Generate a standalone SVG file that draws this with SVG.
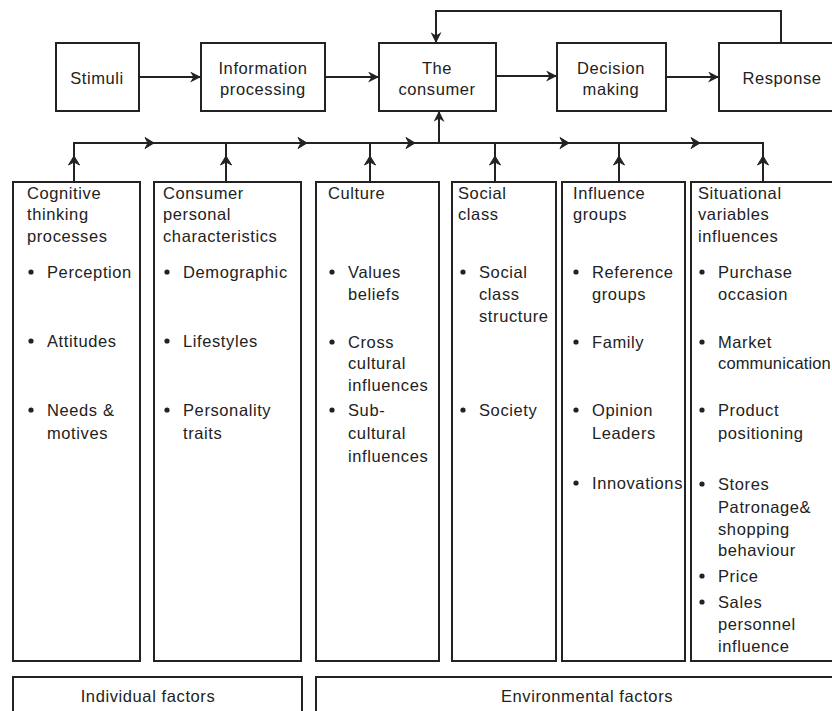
<svg xmlns="http://www.w3.org/2000/svg" xmlns:xlink="http://www.w3.org/1999/xlink" width="832" height="711" viewBox="0 0 832 711">
<style>
rect{fill:#fff;stroke:#222;stroke-width:2}
.c line,.c path.l{stroke:#222;stroke-width:2;fill:none}
text{font-family:"Liberation Sans",Arial,sans-serif;font-size:16.5px;fill:#222;letter-spacing:0.6px}
.m{text-anchor:middle}
</style>
<defs>
<marker id="ah" viewBox="0 0 10 10" refX="9" refY="5" markerWidth="11" markerHeight="11" orient="auto" markerUnits="userSpaceOnUse">
<path d="M0,0 L10,5 L0,10 L3,5 z" fill="#222"/>
</marker>
<path id="chev" d="M-9,-5.5 L0,0 L-9,5.5 L-6,0 z" fill="#222" stroke="#222" stroke-width="1"/>
<circle id="dot" r="2.6" fill="#222"/>
</defs>

<g class="c" id="connectors">
<line x1="139" y1="77" x2="200" y2="77" marker-end="url(#ah)"/>
<line x1="325" y1="77" x2="378" y2="77" marker-end="url(#ah)"/>
<line x1="496" y1="76" x2="556" y2="76" marker-end="url(#ah)"/>
<line x1="666" y1="77" x2="718" y2="77" marker-end="url(#ah)"/>
<path class="l" d="M781,43 V11 H436 V42" marker-end="url(#ah)"/>
<line x1="439" y1="143" x2="439" y2="112" marker-end="url(#ah)"/>
<path class="l" d="M74,182 V143 H763 V182"/>
<line x1="226" y1="182" x2="226" y2="143"/>
<line x1="370" y1="182" x2="370" y2="143"/>
<line x1="495" y1="182" x2="495" y2="143"/>
<line x1="619" y1="182" x2="619" y2="143"/>
<use xlink:href="#chev" x="154" y="143"/>
<use xlink:href="#chev" x="307" y="143"/>
<use xlink:href="#chev" x="415" y="143"/>
<use xlink:href="#chev" x="569" y="143"/>
<use xlink:href="#chev" x="700" y="143"/>
<use xlink:href="#chev" transform="translate(74,156) rotate(-90)"/>
<use xlink:href="#chev" transform="translate(226,156) rotate(-90)"/>
<use xlink:href="#chev" transform="translate(370,156) rotate(-90)"/>
<use xlink:href="#chev" transform="translate(495,156) rotate(-90)"/>
<use xlink:href="#chev" transform="translate(619,156) rotate(-90)"/>
<use xlink:href="#chev" transform="translate(763,156) rotate(-90)"/>
</g>

<g id="stimuli"><rect x="56" y="43" width="83" height="68"/><text class="m" x="97" y="84">Stimuli</text></g>
<g id="info"><rect x="201" y="43" width="124" height="68"/><text class="m" x="263" y="74">Information</text><text class="m" x="263" y="95">processing</text></g>
<g id="consumer"><rect x="379" y="43" width="117" height="68"/><text class="m" x="437" y="74">The</text><text class="m" x="437" y="95">consumer</text></g>
<g id="decision"><rect x="557" y="43" width="109" height="68"/><text class="m" x="611" y="74">Decision</text><text class="m" x="611" y="95">making</text></g>
<g id="response"><rect x="719" y="43" width="130" height="68"/><text class="m" x="782" y="84">Response</text></g>

<g id="col-cognitive"><rect x="13" y="182" width="127" height="479"/>
<text x="27" y="199">Cognitive</text><text x="27" y="220">thinking</text><text x="27" y="242">processes</text>
<use xlink:href="#dot" x="31" y="272"/><text x="47" y="278">Perception</text>
<use xlink:href="#dot" x="31" y="341"/><text x="47" y="347">Attitudes</text>
<use xlink:href="#dot" x="31" y="410"/><text x="47" y="416">Needs &amp;</text><text x="47" y="439">motives</text>
</g>
<g id="col-personal"><rect x="154" y="182" width="147" height="479"/>
<text x="163" y="199">Consumer</text><text x="163" y="220">personal</text><text x="163" y="242">characteristics</text>
<use xlink:href="#dot" x="167" y="272"/><text x="183" y="278">Demographic</text>
<use xlink:href="#dot" x="167" y="341"/><text x="183" y="347">Lifestyles</text>
<use xlink:href="#dot" x="167" y="410"/><text x="183" y="416">Personality</text><text x="183" y="439">traits</text>
</g>
<g id="col-culture"><rect x="316" y="182" width="123" height="479"/>
<text x="328" y="199">Culture</text>
<use xlink:href="#dot" x="332" y="272"/><text x="348" y="278">Values</text><text x="348" y="300">beliefs</text>
<use xlink:href="#dot" x="332" y="342"/><text x="348" y="348">Cross</text><text x="348" y="369">cultural</text><text x="348" y="391">influences</text>
<use xlink:href="#dot" x="332" y="410"/><text x="348" y="416">Sub-</text><text x="348" y="439">cultural</text><text x="348" y="462">influences</text>
</g>
<g id="col-social"><rect x="452" y="182" width="104" height="479"/>
<text x="458" y="199">Social</text><text x="458" y="220">class</text>
<use xlink:href="#dot" x="463" y="272"/><text x="479" y="278">Social</text><text x="479" y="300">class</text><text x="479" y="322">structure</text>
<use xlink:href="#dot" x="463" y="410"/><text x="479" y="416">Society</text>
</g>
<g id="col-influence"><rect x="562" y="182" width="123" height="479"/>
<text x="573" y="199">Influence</text><text x="573" y="220">groups</text>
<use xlink:href="#dot" x="576" y="272"/><text x="592" y="278">Reference</text><text x="592" y="300">groups</text>
<use xlink:href="#dot" x="576" y="342"/><text x="592" y="348">Family</text>
<use xlink:href="#dot" x="576" y="410"/><text x="592" y="416">Opinion</text><text x="592" y="439">Leaders</text>
<use xlink:href="#dot" x="576" y="483"/><text x="592" y="489">Innovations</text>
</g>
<g id="col-situational"><rect x="691" y="182" width="160" height="479"/>
<text x="698" y="199">Situational</text><text x="698" y="220">variables</text><text x="698" y="242">influences</text>
<use xlink:href="#dot" x="702" y="272"/><text x="718" y="278">Purchase</text><text x="718" y="300">occasion</text>
<use xlink:href="#dot" x="702" y="342"/><text x="718" y="348">Market</text><text x="718" y="369" style="letter-spacing:0.15px">communication</text>
<use xlink:href="#dot" x="702" y="410"/><text x="718" y="416">Product</text><text x="718" y="439">positioning</text>
<use xlink:href="#dot" x="702" y="484"/><text x="718" y="490">Stores</text><text x="718" y="513">Patronage&amp;</text><text x="718" y="535">shopping</text><text x="718" y="556">behaviour</text>
<use xlink:href="#dot" x="702" y="576"/><text x="718" y="582">Price</text>
<use xlink:href="#dot" x="702" y="602"/><text x="718" y="608">Sales</text><text x="718" y="630">personnel</text><text x="718" y="652">influence</text>
</g>

<g id="individual"><rect x="13" y="677" width="289" height="50"/><text class="m" x="148" y="702">Individual factors</text></g>
<g id="environmental"><rect x="316" y="677" width="530" height="50"/><text class="m" x="587" y="702">Environmental factors</text></g>
</svg>
